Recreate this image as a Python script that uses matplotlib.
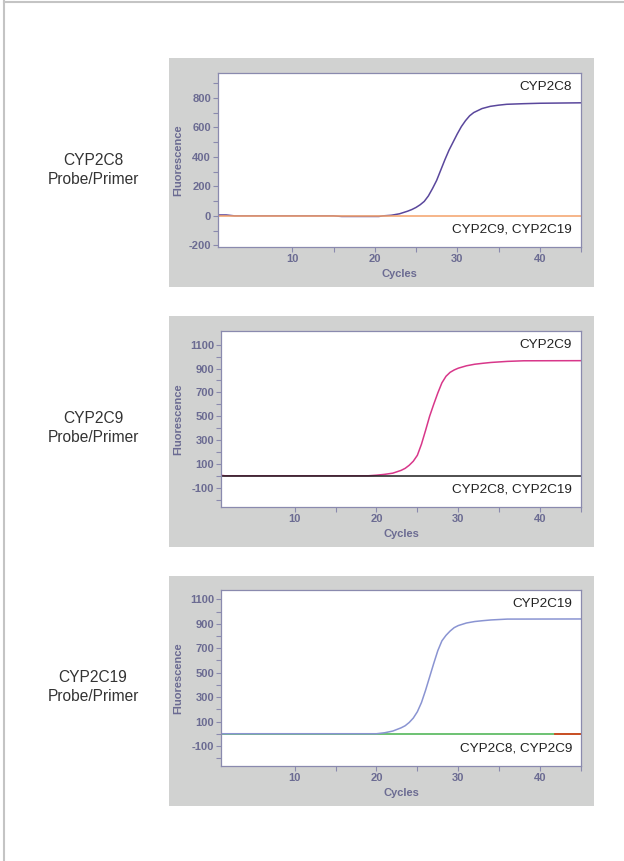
import numpy as np
import matplotlib
matplotlib.use("Agg")
import matplotlib.pyplot as plt
from matplotlib.patches import Rectangle
from matplotlib.lines import Line2D

plt.rcParams['font.family'] = ['Liberation Sans', 'DejaVu Sans']
plt.rcParams['axes.unicode_minus'] = False

# CYP2C8 probe/primer panel
c8_x = [1, 2, 3, 15, 16, 20.5, 21, 22, 23, 24, 24.5, 25, 25.5, 26, 26.5, 27, 27.5, 28,
        28.5, 29, 29.5, 30, 30.5, 31, 31.5, 32, 33, 34, 35, 36, 38, 40, 45]
c8_y = [6, 6, 0, 0, -4, -4, 0, 4, 14, 32, 43, 57, 75, 98, 135, 185, 240, 310,
        380, 445, 500, 555, 605, 645, 678, 700, 727, 742, 750, 756, 760, 763, 766]
c8_other_x = [1, 45]
c8_other_y = [0, 0]

# CYP2C9 probe/primer panel
c9_x = [1, 1.5, 2, 19, 20, 21, 22, 23, 23.5, 24, 24.5, 25, 25.5, 26, 26.5, 27, 27.5,
        28, 28.5, 29, 29.5, 30, 31, 32, 33, 34, 36, 38, 45]
c9_y = [4, 0, 0, 0, 5, 12, 22, 45, 62, 88, 122, 172, 265, 380, 500, 600, 695,
        780, 835, 868, 888, 903, 923, 936, 944, 951, 960, 965, 966]
c9_other_x = [1, 45]
c9_other_y = [0, 0]

# CYP2C19 probe/primer panel
c19_x = [1, 20, 21, 22, 23, 23.5, 24, 24.5, 25, 25.5, 26, 26.5, 27, 27.5, 28, 28.5,
         29, 29.5, 30, 31, 32, 33, 34, 36, 45]
c19_y = [0, 0, 8, 22, 48, 65, 92, 128, 180, 255, 355, 465, 575, 680, 760, 805,
         840, 868, 885, 906, 918, 925, 931, 938, 939]
c19_green_x = [1, 45]
c19_green_y = [0, 0]
c19_red_x = [41.8, 45]
c19_red_y = [1, 1]

row_labels = ["CYP2C8\nProbe/Primer", "CYP2C9\nProbe/Primer", "CYP2C19\nProbe/Primer"]
top_labels = ["CYP2C8", "CYP2C9", "CYP2C19"]
bottom_labels = ["CYP2C9, CYP2C19", "CYP2C8, CYP2C19", "CYP2C8, CYP2C9"]

W, H = 624, 861
fig = plt.figure(figsize=(W / 100, H / 100), dpi=100)

def px(x0, y0, x1, y1):
    # pixel box -> figure fraction [left, bottom, width, height]
    return [x0 / W, 1 - y1 / H, (x1 - x0) / W, (y1 - y0) / H]

# page frame
fig.add_artist(Line2D([4 / W, 4 / W], [0, 1 - 1 / H], color="#c4c4c4", lw=1.5))
fig.add_artist(Line2D([4 / W, 1], [1 - 1.5 / H, 1 - 1.5 / H], color="#c4c4c4", lw=1.5))

gray_boxes = [(169, 58, 594, 287), (169, 316, 594, 547), (169, 576, 594, 806)]
ax_boxes = [(218, 73, 581, 247), (221, 331, 581, 507), (221, 590, 581, 766)]
ylims = [(-211, 968), (-262, 1215), (-264, 1176)]
major_y = [[-200, 0, 200, 400, 600, 800], [-100, 100, 300, 500, 700, 900, 1100],
           [-100, 100, 300, 500, 700, 900, 1100]]
minor_y = [[-100, 100, 300, 500, 700, 900], [-200, 0, 200, 400, 600, 800, 1000],
           [-200, 0, 200, 400, 600, 800, 1000]]
label_y = [170, 428, 687]
ylabel_x = [183, 183, 183]

axc = "#8a8aae"
txtc = "#6b6b92"

for i in range(3):
    gx0, gy0, gx1, gy1 = gray_boxes[i]
    fig.add_artist(Rectangle((gx0 / W, 1 - gy1 / H), (gx1 - gx0) / W, (gy1 - gy0) / H,
                             transform=fig.transFigure, facecolor="#d1d2d1",
                             edgecolor="none", zorder=0))
    ax = fig.add_axes(px(*ax_boxes[i]))
    ax.set_facecolor("white")

    if i == 0:
        ax.plot(c8_x, c8_y, color="#5a479c", lw=1.1)
        ax.plot(c8_other_x, c8_other_y, color="#f4a26a", lw=1.1)
    elif i == 1:
        ax.plot(c9_x, c9_y, color="#d8378a", lw=1.1)
        ax.plot(c9_other_x, c9_other_y, color="#1e1e1e", lw=1.1)
    else:
        ax.plot(c19_green_x, c19_green_y, color="#45b24c", lw=1.1)
        ax.plot(c19_x, c19_y, color="#8a94d2", lw=1.1)
        ax.plot(c19_red_x, c19_red_y, color="#d2451e", lw=1.3)

    ax.set_xlim(1, 45)
    ax.set_ylim(*ylims[i])
    ax.set_xticks([10, 20, 30, 40])
    ax.set_xticks([15, 25, 35, 45], minor=True)
    ax.set_yticks(major_y[i])
    ax.set_yticks(minor_y[i], minor=True)
    ax.tick_params(which="both", direction="out", color=axc, length=3.5, width=0.8)
    ax.tick_params(labelsize=8, labelcolor=txtc, pad=1.5)
    for lab in ax.get_xticklabels() + ax.get_yticklabels():
        lab.set_fontweight("bold")
    for s in ax.spines.values():
        s.set_color(axc)
        s.set_linewidth(0.9)
    ax.set_xlabel("Cycles", fontsize=8, fontweight="bold", color=txtc, labelpad=3.5)
    ax.set_ylabel("Fluorescence", fontsize=8, fontweight="bold", color=txtc)
    x0 = ax_boxes[i][0]
    ax.yaxis.set_label_coords((ylabel_x[i] - x0) / (ax_boxes[i][2] - x0), 0.5)

    ax.text(0.975, 0.92, top_labels[i], transform=ax.transAxes, ha="right", va="center",
            fontsize=9.7, color="#222222")
    ax.text(0.975, 0.1, bottom_labels[i], transform=ax.transAxes, ha="right", va="center",
            fontsize=9.7, color="#222222")

    fig.text(93 / W, 1 - label_y[i] / H, row_labels[i], ha="center", va="center",
             fontsize=11.2, color="#333333", linespacing=1.27)

fig.savefig("out.png", dpi=100)
